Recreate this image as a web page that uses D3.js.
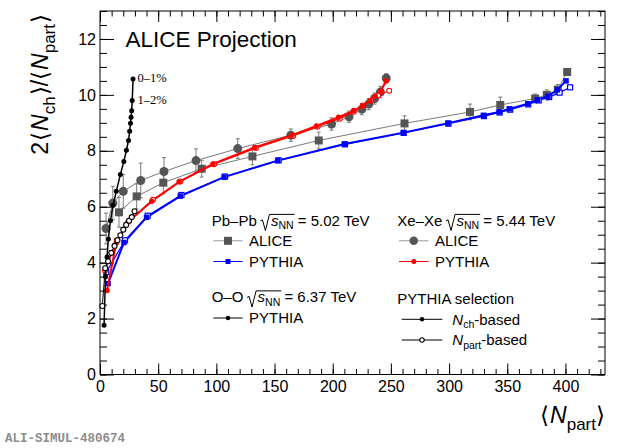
<!DOCTYPE html>
<html><head><meta charset="utf-8">
<script src="https://cdn.jsdelivr.net/npm/d3@7"></script>
<style>body{margin:0;background:#fff}svg{display:block}text{font-family:"Liberation Sans",Arial,sans-serif}</style>
</head><body>
<script>
// ---------- data ----------
const xTicks = [0, 50, 100, 150, 200, 250, 300, 350, 400];
const yTicks = [0, 2, 4, 6, 8, 10, 12];

// Pb-Pb ALICE
const pbAliceN = [16.3, 31.5, 54.4, 87.4, 131, 188, 261.7, 318, 344, 374, 384, 393.5, 401.5];
const pbAliceV = [5.8, 6.37, 6.86, 7.36, 7.8, 8.37, 8.98, 9.39, 9.64, 9.87, 10.0, 10.19, 10.82];
const pbAliceE = [0.53, 0.45, 0.4, 0.3, 0.3, 0.3, 0.27, 0.28, 0.28, 0.16, 0.18, 0.18, 0.1];

// Xe-Xe ALICE
const xeAliceN = [5.2, 11, 20, 35, 55, 82.5, 118.4, 164, 199, 214, 225, 231, 236, 241, 246];
const xeAliceV = [5.22, 6.13, 6.55, 6.94, 7.26, 7.65, 8.08, 8.56, 8.96, 9.22, 9.49, 9.67, 9.87, 10.1, 10.6];
const xeAliceE = [0.55, 0.6, 0.6, 0.62, 0.5, 0.42, 0.35, 0.22, 0.22, 0.2, 0.2, 0.2, 0.2, 0.2, 0.15];

// Pb-Pb PYTHIA
const pbNchN = [6.9, 20.6, 40, 69, 106.6, 152.7, 210, 260.8, 299, 329.6, 343, 351.7, 367.7, 376, 385, 393, 400.5];
const pbNchV = [3.25, 4.72, 5.62, 6.38, 7.06, 7.65, 8.24, 8.65, 8.99, 9.27, 9.39, 9.5, 9.68, 9.82, 9.95, 10.18, 10.5];
const pbNpN = [5.4, 21.5, 41, 70, 107.5, 153.5, 210.5, 261, 299.5, 330, 343.5, 352.5, 368, 377, 386, 395, 404];
const pbNpV = [3.66, 4.8, 5.68, 6.42, 7.08, 7.66, 8.23, 8.64, 8.97, 9.24, 9.37, 9.47, 9.66, 9.8, 9.92, 10.08, 10.27];

// Xe-Xe PYTHIA
const xeNchN = [6, 14, 24, 44.5, 68, 97, 133, 165, 186, 205, 218, 226, 232, 236.5, 241, 246];
const xeNchV = [3.0, 4.7, 5.45, 6.2, 6.89, 7.53, 8.12, 8.56, 8.89, 9.2, 9.44, 9.6, 9.79, 9.95, 10.12, 10.5];
const xeNpN = [4.3, 14.5, 25, 45.5, 69, 98, 134, 166, 187, 206, 218, 226, 233, 239, 248.5];
const xeNpV = [3.72, 4.8, 5.5, 6.25, 6.9, 7.52, 8.1, 8.53, 8.86, 9.15, 9.4, 9.62, 9.8, 9.98, 10.15];

// O-O PYTHIA
const ooNchN = [3.5, 4.7, 6, 7.2, 9, 11.2, 14, 17.5, 20.5, 22.7, 24.5, 25.5, 26.2, 26.7, 27.2, 27.7, 28.4];
const ooNchV = [1.76, 3.5, 4.2, 4.85, 5.5, 6.05, 6.55, 7.15, 7.62, 8.02, 8.37, 8.7, 8.99, 9.2, 9.43, 9.8, 10.57];
const ooNpN = [2, 4.5, 6.9, 9.7, 12.5, 15, 17.5, 20, 22.5, 25, 27.3, 29.7];
const ooNpV = [2.45, 3.8, 4.05, 4.35, 4.6, 4.8, 4.98, 5.18, 5.35, 5.5, 5.63, 5.84];

// ---------- setup ----------
const W = 620, H = 448;
const svg = d3.select("body").append("svg").attr("width", W).attr("height", H);
const x = d3.scaleLinear().domain([0, 434]).range([100, 605]);
const y = d3.scaleLinear().domain([0, 13]).range([374.5, 11]);
const X0 = 100, X1 = 605, Y0 = 374.5, Y1 = 11;

const GREYM = "#555555", GREYL = "#7a7a7a", BLUE = "#0000ff", RED = "#ff0000";

// ---------- axes ----------
function styleAxis(g) { g.select(".domain").remove(); g.selectAll("line").attr("stroke", "#000").attr("stroke-width", 1); g.selectAll("text").attr("font-size", 16).attr("fill", "#000").attr("font-family", '"Liberation Sans",Arial,sans-serif'); }
const xMinor = d3.range(0, 434, 10), yMinor = d3.range(0, 13.01, 0.5);

svg.append("g").attr("transform", `translate(0,${Y0})`)
  .call(d3.axisBottom(x).tickValues(xTicks).tickSize(-11).tickPadding(6).tickFormat(d3.format("d"))).call(styleAxis);
svg.append("g").attr("transform", `translate(0,${Y0})`)
  .call(d3.axisBottom(x).tickValues(xMinor).tickSize(-5.5).tickFormat("")).call(styleAxis);
svg.append("g").attr("transform", `translate(0,${Y1})`)
  .call(d3.axisTop(x).tickValues(xTicks).tickSize(-11).tickFormat("")).call(styleAxis);
svg.append("g").attr("transform", `translate(0,${Y1})`)
  .call(d3.axisTop(x).tickValues(xMinor).tickSize(-5.5).tickFormat("")).call(styleAxis);
svg.append("g").attr("transform", `translate(${X0},0)`)
  .call(d3.axisLeft(y).tickValues(yTicks).tickSize(-14).tickPadding(4).tickFormat(d3.format("d"))).call(styleAxis);
svg.append("g").attr("transform", `translate(${X0},0)`)
  .call(d3.axisLeft(y).tickValues(yMinor).tickSize(-7).tickFormat("")).call(styleAxis);
svg.append("g").attr("transform", `translate(${X1},0)`)
  .call(d3.axisRight(y).tickValues(yTicks).tickSize(-14).tickFormat("")).call(styleAxis);
svg.append("g").attr("transform", `translate(${X1},0)`)
  .call(d3.axisRight(y).tickValues(yMinor).tickSize(-7).tickFormat("")).call(styleAxis);
svg.append("rect").attr("x", X0).attr("y", Y1).attr("width", X1 - X0).attr("height", Y0 - Y1)
  .attr("fill", "none").attr("stroke", "#000").attr("stroke-width", 1);

// ---------- helpers ----------
const line = d3.line().x(d => x(d[0])).y(d => y(d[1]));
function drawLine(N, V, color, w) {
  svg.append("path").datum(d3.zip(N, V)).attr("d", line).attr("fill", "none").attr("stroke", color).attr("stroke-width", w);
}
function marker(g, type, cx, cy, color, s) {
  if (type === "sq") g.append("rect").attr("x", cx - s / 2).attr("y", cy - s / 2).attr("width", s).attr("height", s).attr("fill", color);
  else if (type === "osq") g.append("rect").attr("x", cx - s / 2).attr("y", cy - s / 2).attr("width", s).attr("height", s).attr("fill", "#fff").attr("stroke", color).attr("stroke-width", 1.2);
  else if (type === "ci") g.append("circle").attr("cx", cx).attr("cy", cy).attr("r", s / 2).attr("fill", color);
  else if (type === "oci") g.append("circle").attr("cx", cx).attr("cy", cy).attr("r", s / 2).attr("fill", "#fff").attr("stroke", color).attr("stroke-width", 1.1);
}
function drawMarkers(N, V, type, color, s) {
  const g = svg.append("g");
  d3.zip(N, V).forEach(d => marker(g, type, x(d[0]), y(d[1]), color, s));
}
function drawErrors(N, V, E, color) {
  const g = svg.append("g").attr("stroke", color).attr("stroke-width", 1);
  d3.zip(N, V, E).forEach(d => {
    const cx = x(d[0]);
    g.append("line").attr("x1", cx).attr("x2", cx).attr("y1", y(d[1] - d[2])).attr("y2", y(d[1] + d[2]));
    [d[1] - d[2], d[1] + d[2]].forEach(v => g.append("line").attr("x1", cx - 2).attr("x2", cx + 2).attr("y1", y(v)).attr("y2", y(v)));
  });
}

// ---------- data drawing ----------
// ALICE
drawErrors(pbAliceN, pbAliceV, pbAliceE, GREYL);
drawErrors(xeAliceN, xeAliceV, xeAliceE, GREYL);
drawLine(pbAliceN, pbAliceV, GREYL, 1);
drawLine(xeAliceN, xeAliceV, GREYL, 1);
drawMarkers(pbAliceN, pbAliceV, "sq", GREYM, 8);
drawMarkers(xeAliceN, xeAliceV, "ci", GREYM, 9);

// PYTHIA Pb-Pb
drawLine(pbNpN, pbNpV, BLUE, 1.2);
drawLine(pbNchN, pbNchV, BLUE, 2);
drawMarkers(pbNpN, pbNpV, "osq", BLUE, 5);
drawMarkers(pbNchN, pbNchV, "sq", BLUE, 5.5);
// PYTHIA Xe-Xe
drawLine(xeNpN, xeNpV, RED, 1.2);
drawLine(xeNchN, xeNchV, RED, 2);
drawMarkers(xeNpN, xeNpV, "oci", RED, 5);
drawMarkers(xeNchN, xeNchV, "ci", RED, 5.5);
// PYTHIA O-O
drawLine(ooNpN, ooNpV, "#000", 1);
drawLine(ooNchN, ooNchV, "#000", 1.5);
drawMarkers(ooNpN, ooNpV, "oci", "#000", 5);
drawMarkers(ooNchN, ooNchV, "ci", "#000", 5);

// centrality labels
svg.append("text").attr("x", 137.5).attr("y", 82).attr("font-size", 12.5).style("font-family", '"Liberation Serif","Times New Roman",serif').text("0–1%");
svg.append("text").attr("x", 137.5).attr("y", 104.3).attr("font-size", 12.5).style("font-family", '"Liberation Serif","Times New Roman",serif').text("1–2%");

// ---------- rich text ----------
function rich(parent, tx, ty, parts, fs, subFs, subShift, anchor) {
  const t = parent.append("text").attr("x", tx).attr("y", ty).attr("font-size", fs).attr("fill", "#000");
  if (anchor) t.attr("text-anchor", anchor);
  let shift = 0, idx = 0; const marks = {};
  parts.forEach(p => {
    const ts = t.append("tspan").text(p.t);
    if (p.i) ts.attr("font-style", "italic");
    const target = p.sub ? subShift : 0;
    if (target !== shift) { ts.attr("dy", target - shift); shift = target; }
    if (p.sub) ts.attr("font-size", subFs);
    if (p.fs) ts.attr("font-size", p.fs);
    if (p.dx) ts.attr("dx", p.dx);
    if (p.mark) marks[p.mark] = [idx, idx + p.t.length - 1];
    idx += p.t.length;
  });
  return { t, marks };
}
function radical(parent, r, by, fs) {
  const node = r.t.node();
  const sx = node.getStartPositionOfChar(r.marks.rs[0]).x;
  const ex = node.getEndPositionOfChar(r.marks.re[1]).x;
  const top = by - fs * 0.74;
  parent.append("path")
    .attr("d", `M${sx - 10.5},${by - fs * 0.3} L${sx - 8.5},${by - fs * 0.38} L${sx - 5.5},${by + 5} L${sx - 1.5},${top} L${ex + 1},${top}`)
    .attr("fill", "none").attr("stroke", "#000").attr("stroke-width", 1);
}
function energyLabel(tx, ty, sys, e) {
  const r = rich(svg, tx, ty, [
    { t: sys + " " },
    { t: "s", i: true, dx: 10, mark: "rs" },
    { t: "NN", sub: true, mark: "re" },
    { t: " = " + e + " TeV" }
  ], 15, 10.5, 3.5);
  radical(svg, r, ty, 15);
}

// ALICE Projection
svg.append("text").attr("x", 125.5).attr("y", 46.7).attr("font-size", 22.5).text("ALICE Projection");

// ---------- legend ----------
const LFS = 15;
energyLabel(211.7, 225.5, "Pb–Pb", "5.02");
energyLabel(397.3, 225.5, "Xe–Xe", "5.44");
energyLabel(211.7, 302, "O–O", "6.37");

const leg = svg.append("g");
function legRow(x1, x2, cy, lineColor, lw, mtype, mcolor, ms, label, tx) {
  leg.append("line").attr("x1", x1).attr("x2", x2).attr("y1", cy).attr("y2", cy).attr("stroke", lineColor).attr("stroke-width", lw);
  marker(leg, mtype, (x1 + x2) / 2, cy, mcolor, ms);
  if (label) leg.append("text").attr("x", tx).attr("y", cy + 5.3).attr("font-size", LFS).text(label);
}
legRow(213.3, 242.7, 240.8, "#999", 1, "sq", GREYM, 8, "ALICE", 249);
legRow(213.3, 242.7, 261.5, BLUE, 1, "sq", BLUE, 5, "PYTHIA", 249);
legRow(213.3, 242.7, 318, "#000", 1, "ci", "#000", 4.5, "PYTHIA", 249);
legRow(399, 428.5, 240.8, "#999", 1, "ci", GREYM, 8.5, "ALICE", 435);
legRow(399, 428.5, 261.5, RED, 1, "ci", RED, 5, "PYTHIA", 435);

svg.append("text").attr("x", 397.3).attr("y", 304).attr("font-size", LFS).text("PYTHIA selection");
legRow(401.7, 442.3, 319.3, "#000", 1, "ci", "#000", 4.5, null, 0);
legRow(401.7, 442.3, 340, "#000", 1, "oci", "#000", 4.5, null, 0);
rich(svg, 452.3, 324.5, [{ t: "N", i: true }, { t: "ch", sub: true }, { t: "-based" }], LFS, 10.5, 3.5);
rich(svg, 452.3, 345, [{ t: "N", i: true }, { t: "part", sub: true }, { t: "-based" }], LFS, 10.5, 3.5);

// ---------- axis titles ----------
rich(svg, 605, 422.5, [{ t: "⟨" }, { t: "N", i: true, dx: 1 }, { t: "part", sub: true }, { t: "⟩" }], 23, 17, 7, "end");

const yl = svg.append("g").attr("transform", "translate(48,14) rotate(-90)");
rich(yl, 0, 0, [
  { t: "2" }, { t: "⟨", dx: 1 }, { t: "N", i: true, dx: 1 }, { t: "ch", sub: true }, { t: "⟩", dx: 1 }, { t: "/" },
  { t: "⟨" }, { t: "N", i: true, dx: 1 }, { t: "part", sub: true }, { t: "⟩", dx: 1 }
], 23, 17, 7, "end");

// watermark
svg.append("text").attr("x", 5).attr("y", 442).attr("font-size", 12.5).attr("font-weight", "bold")
  .attr("fill", "#8c8c8c").style("font-family", '"Liberation Mono","Courier New",monospace').text("ALI-SIMUL-480674");
</script>
</body></html>
